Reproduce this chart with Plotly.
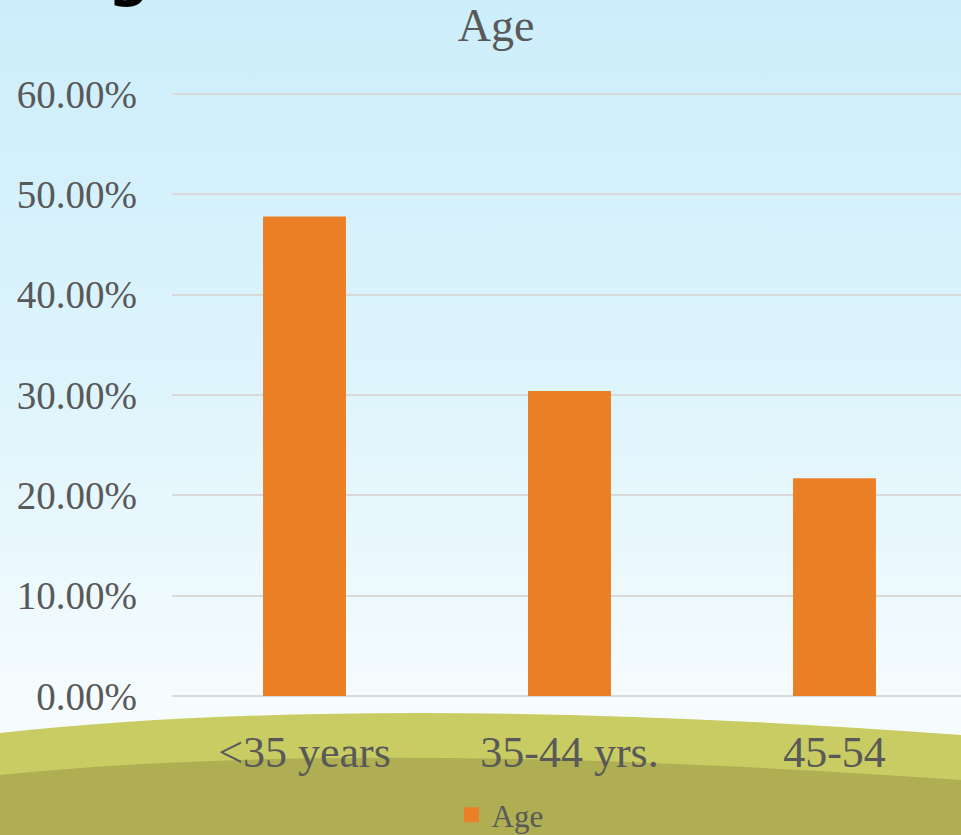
import base64
from plotly import graph_objects as go

categories = ["<35 years", "35-44 yrs.", "45-54"]
age_share = [0.478, 0.304, 0.217]
y_ticks = [0.0, 0.1, 0.2, 0.3, 0.4, 0.5, 0.6]

W, H = 961, 835
L, R, T, B = 172, 0, 92, 139
plot_w = W - L - R
plot_h = H - T - B
y_top = 0.6 * plot_h / (plot_h - 2)  # leave the 60% gridline just inside the plot

# slide background: sky gradient + two hills
bg_svg = f"""<svg xmlns="http://www.w3.org/2000/svg" width="{W}" height="{H}" viewBox="0 0 {W} {H}" preserveAspectRatio="none">
<defs><linearGradient id="sky" x1="0" y1="0" x2="0" y2="1">
<stop offset="0" stop-color="#CCEEFA"/>
<stop offset="0.45" stop-color="#DDF4FC"/>
<stop offset="0.85" stop-color="#F6FCFE"/>
<stop offset="1" stop-color="#F8FCFE"/>
</linearGradient></defs>
<rect x="0" y="0" width="{W}" height="{H}" fill="url(#sky)"/>
<path d="M0,733 Q380,692 961,735 L961,835 L0,835 Z" fill="#C8CC63"/>
<path d="M0,775 Q360,738 961,780 L961,835 L0,835 Z" fill="#AFAE53"/>
</svg>"""
bg_src = "data:image/svg+xml;base64," + base64.b64encode(bg_svg.encode()).decode()

fig = go.Figure()
fig.add_trace(go.Bar(
    x=categories,
    y=age_share,
    name="Age",
    width=0.313,
    showlegend=False,
    marker=dict(color="#EB7F25", line=dict(width=0)),
))
# legend entry with a bigger square key
fig.add_trace(go.Scatter(
    x=[None], y=[None], mode="markers", name="Age",
    marker=dict(symbol="square", size=15, color="#EB7F25"),
))

fig.add_layout_image(
    source=bg_src,
    xref="paper", yref="paper",
    x=-L / plot_w, y=(H - B) / plot_h,
    sizex=W / plot_w, sizey=H / plot_h,
    xanchor="left", yanchor="top",
    sizing="stretch", layer="below",
)

# cropped slide heading letter at the very top
fig.add_annotation(
    text="<b>g</b>", xref="paper", yref="paper",
    x=(129 - L) / plot_w, y=(H - B + 25) / plot_h,
    xanchor="center", yanchor="middle", showarrow=False,
    font=dict(family="DejaVu Sans", size=58, color="#000000"),
)

fig.update_layout(
    width=W, height=H,
    margin=dict(l=L, r=R, t=T, b=B, autoexpand=False),
    paper_bgcolor="#CCEEFA",
    plot_bgcolor="rgba(0,0,0,0)",
    font=dict(family="Liberation Serif", color="#595959"),
    title=dict(
        text="Age", x=496 / W, xanchor="center", y=1 - 25 / H, yanchor="middle",
        font=dict(family="Liberation Serif", size=46, color="#595959"),
    ),
    showlegend=True,
    legend=dict(
        orientation="h", x=(500 - L) / plot_w, xanchor="center",
        y=-(815 - (H - B)) / plot_h, yanchor="middle",
        font=dict(size=31, color="#595959"), bgcolor="rgba(0,0,0,0)",
        itemwidth=30,
    ),
)

fig.update_yaxes(
    range=[0, y_top], tickvals=y_ticks, tickformat=".2%",
    showgrid=True, gridcolor="#D9D9D9", gridwidth=2,
    zeroline=True, zerolinecolor="#D9D9D9", zerolinewidth=2,
    showline=False, ticks="", ticklabelstandoff=34,
    tickfont=dict(size=39, color="#595959"),
)
fig.update_xaxes(
    range=[-0.5, -0.5 + plot_w / 265], showgrid=False, showline=False,
    ticks="", ticklabelstandoff=26,
    tickfont=dict(size=44, color="#595959"),
)

fig.write_html(
    "out.html",
    config={"displayModeBar": False},
    post_script="document.body.style.margin='0';",
)
